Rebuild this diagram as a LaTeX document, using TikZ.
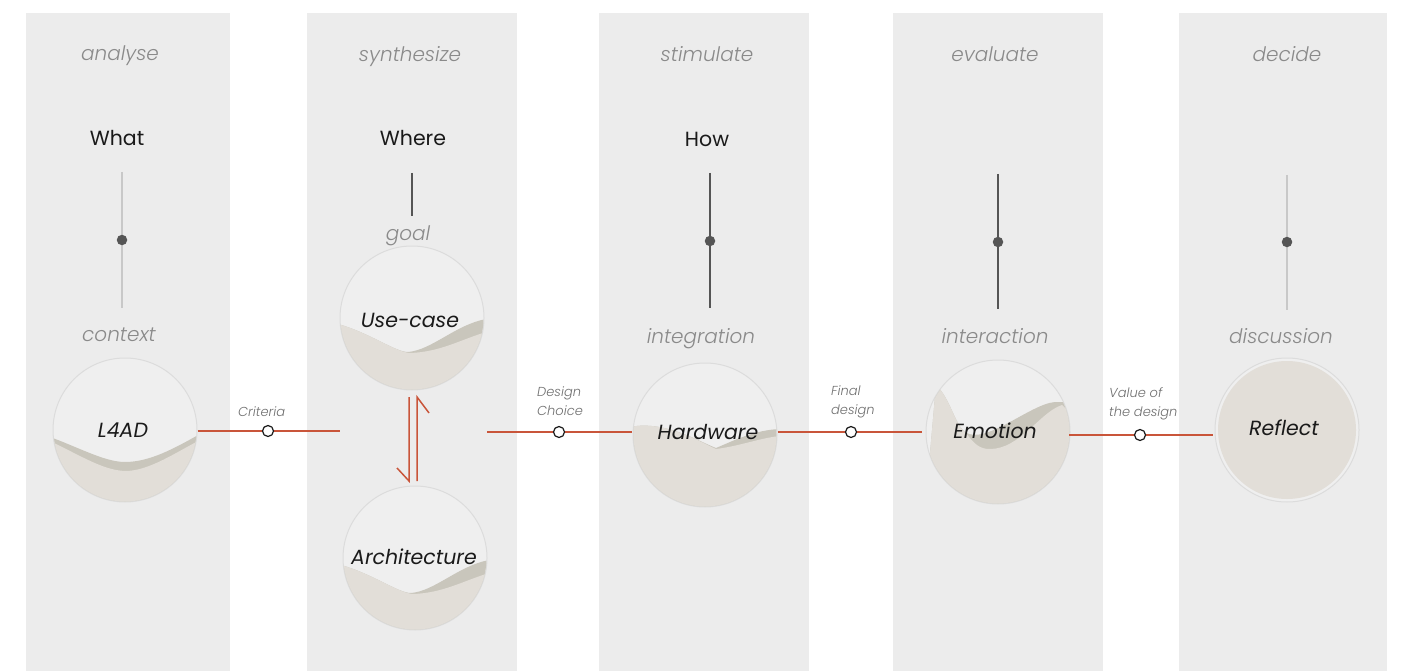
\documentclass[tikz,border=0pt]{standalone}
\usepackage{fontspec}
\setmainfont{Poppins}[UprightFont=* Light, ItalicFont=* Light Italic]
\newfontfamily\bookfont{Poppins}
\begin{document}
\begin{tikzpicture}[x=1pt,y=-1pt]
\definecolor{panel}{HTML}{ECECEC}
\definecolor{bubble}{HTML}{EFEFEF}
\definecolor{rim}{HTML}{DCDCDC}
\definecolor{sandlight}{HTML}{E2DED8}
\definecolor{sanddark}{HTML}{C9C6BC}
\definecolor{link}{HTML}{C9553A}
\definecolor{soft}{HTML}{8A8A8A}
\definecolor{note}{HTML}{707070}
\definecolor{ink}{HTML}{1A1A1A}
\definecolor{stem}{HTML}{555555}
\definecolor{stemlight}{HTML}{C8C8C8}
\tikzset{
  phase/.style={font=\itshape\fontsize{20}{22}\selectfont, text=soft, anchor=base},
  question/.style={font=\bookfont\fontsize{20.5}{24}\selectfont, text=ink, anchor=base},
  bubblebox/.style={circle, minimum size=144pt, inner sep=0pt, fill=bubble, draw=rim, line width=1pt},
  bubbletext/.style={font=\bookfont\itshape\fontsize{20.5}{24}\selectfont, text=ink, anchor=base},
  flow/.style={draw=link, line width=1.5pt},
  hub/.style={circle, minimum size=11pt, inner sep=0pt, fill=white, draw=ink, line width=1.2pt},
  flowlabel/.style={font=\itshape\fontsize{13}{16}\selectfont, text=note, anchor=base west, inner sep=0pt},
  knob/.style={circle, minimum size=10.5pt, inner sep=0pt, fill=stem},
}
% canvas and columns
\fill[white] (0,0) rectangle (1402,671);
\useasboundingbox (0,0) rectangle (1402,671);
\fill[panel] (26,13) rectangle (230,671);
\fill[panel] (307,13) rectangle (517,671);
\fill[panel] (599,13) rectangle (809,671);
\fill[panel] (893,13) rectangle (1103,671);
\fill[panel] (1179,13) rectangle (1387,671);

% phase titles
\node[phase] (analyse) at (120,61) {analyse};
\node[phase] (synth) at (410,62) {synthesize};
\node[phase] (stim) at (707,62) {stimulate};
\node[phase] (eval) at (995,62) {evaluate};
\node[phase] (decide) at (1287,62) {decide};

% questions
\node[question] (what) at (117,146) {What};
\node[question] (where) at (413,146) {Where};
\node[question] (how) at (707,147) {How};

% stems
\coordinate (s1a) at (122,172); \coordinate (s1b) at (122,308);
\coordinate (s2a) at (412,173); \coordinate (s2b) at (412,216);
\coordinate (s3a) at (710,173); \coordinate (s3b) at (710,308);
\coordinate (s4a) at (998,174); \coordinate (s4b) at (998,309);
\coordinate (s5a) at (1287,175); \coordinate (s5b) at (1287,310);
\draw[stemlight, line width=1.2pt] (s1a) -- (s1b);
\draw[stem, line width=1.2pt] (s2a) -- (s2b);
\draw[stem, line width=1.2pt] (s3a) -- (s3b);
\draw[stem, line width=1.2pt] (s4a) -- (s4b);
\draw[stemlight, line width=1.2pt] (s5a) -- (s5b);
\node[knob] (k1) at (122,240) {};
\node[knob] (k3) at (710,241) {};
\node[knob] (k4) at (998,242) {};
\node[knob] (k5) at (1287,242) {};

% lower phase words
\node[phase] (context) at (119,341) {context};
\node[phase] (goal) at (408,240) {goal};
\node[phase] (integ) at (701,343) {integration};
\node[phase] (inter) at (995,343) {interaction};
\node[phase] (discuss) at (1281,343) {discussion};

% bubbles
\node[bubblebox] (l4ad) at (125,430) {};
\node[bubblebox] (usecase) at (412,318) {};
\node[bubblebox] (arch) at (415,558) {};
\node[bubblebox] (hw) at (705,435) {};
\node[bubblebox] (emo) at (998,432) {};
\node[bubblebox] (refl) at (1287,430) {};

% sand waves inside the bubbles
\begin{scope}
  \clip (125,430) circle (71.5pt);
  \fill[sanddark] (50,437) .. controls (80,448) and (105,462) .. (125,462) .. controls (150,462) and (175,448) .. (200,434) -- (200,510) -- (50,510) -- cycle;
  \fill[sandlight] (50,441) .. controls (85,458) and (105,471) .. (127,471) .. controls (150,470) and (175,453) .. (200,440) -- (200,510) -- (50,510) -- cycle;
\end{scope}
\begin{scope}
  \clip (412,318) circle (71.5pt);
  \fill[sanddark] (338,324) .. controls (370,333) and (395,352) .. (408,352) .. controls (432,350) and (455,325) .. (486,319) -- (486,400) -- (338,400) -- cycle;
  \fill[sandlight] (338,324) .. controls (370,333) and (395,352) .. (410,353) .. controls (440,352) and (460,340) .. (486,332) -- (486,400) -- (338,400) -- cycle;
\end{scope}
\begin{scope}
  \clip (415,558) circle (71.5pt);
  \fill[sanddark] (341,565) .. controls (373,574) and (398,593) .. (411,593) .. controls (435,591) and (458,566) .. (489,560) -- (489,640) -- (341,640) -- cycle;
  \fill[sandlight] (341,565) .. controls (373,574) and (398,593) .. (413,594) .. controls (443,593) and (463,581) .. (489,573) -- (489,640) -- (341,640) -- cycle;
\end{scope}
\begin{scope}
  \clip (705,435) circle (71.5pt);
  \fill[sanddark] (630,427) .. controls (665,420) and (700,442) .. (716,448) .. controls (735,440) and (755,430) .. (780,429) -- (780,510) -- (630,510) -- cycle;
  \fill[sandlight] (630,427) .. controls (665,420) and (700,442) .. (716,449) .. controls (740,446) and (760,438) .. (780,436) -- (780,510) -- (630,510) -- cycle;
\end{scope}
\begin{scope}
  \clip (998,432) circle (71.5pt);
  \fill[sanddark] (936,385) .. controls (950,398) and (955,425) .. (965,432) .. controls (985,446) and (1030,404) .. (1055,402) -- (1075,402) -- (1075,510) -- (925,510) -- cycle;
  \fill[sandlight] (936,385) .. controls (950,398) and (955,425) .. (965,432) .. controls (975,445) and (980,449) .. (990,449) .. controls (1020,449) and (1040,412) .. (1062,405) -- (1075,418) -- (1075,510) -- (925,510) -- cycle;
\end{scope}
\fill[sandlight] (1287,430) circle (69pt);

% bubble labels
\node[bubbletext] (t1) at (123,437) {L4AD};
\node[bubbletext] (t2) at (410,327) {Use-case};
\node[bubbletext] (t3) at (414,564) {Architecture};
\node[bubbletext] (t4) at (708,439) {Hardware};
\node[bubbletext] (t5) at (995,438) {Emotion};
\node[bubbletext] (t6) at (1284,435) {Reflect};

% flow between phases
\coordinate (f1end) at (340,431);
\coordinate (f2start) at (487,432);
\coordinate (f2end) at (632,432);
\coordinate (f3end) at (922,432);
\coordinate (f4end) at (1213,435);
\coordinate (f4start) at (1069,435);
\draw[flow] (l4ad.east |- 0,431) -- (f1end);
\draw[flow] (f2start) -- (f2end);
\draw[flow] (hw.east |- 0,432) -- (f3end);
\draw[flow] (f4start) -- (f4end);
\node[hub] (h1) at (268,431) {};
\node[hub] (h2) at (559,432) {};
\node[hub] (h3) at (851,432) {};
\node[hub] (h4) at (1140,435) {};
\node[flowlabel] (c1) at (238,416) {Criteria};
\node[flowlabel] (c2a) at (537,396) {Design};
\node[flowlabel] (c2b) at (537,415) {Choice};
\node[flowlabel] (c3a) at (831,395) {Final};
\node[flowlabel] (c3b) at (831,414) {design};
\node[flowlabel] (c4a) at (1109,397) {Value of};
\node[flowlabel] (c4b) at (1109,416) {the design};

% exchange between use-case and architecture
\coordinate (d1) at (409,397); \coordinate (d2) at (409,481); \coordinate (d3) at (397,468);
\coordinate (u1) at (417,481); \coordinate (u2) at (417,397); \coordinate (u3) at (429,413);
\draw[link, line width=1.5pt, line join=miter] (d1) -- (d2) -- (d3);
\draw[link, line width=1.5pt, line join=miter] (u1) -- (u2) -- (u3);
\end{tikzpicture}
\end{document}
